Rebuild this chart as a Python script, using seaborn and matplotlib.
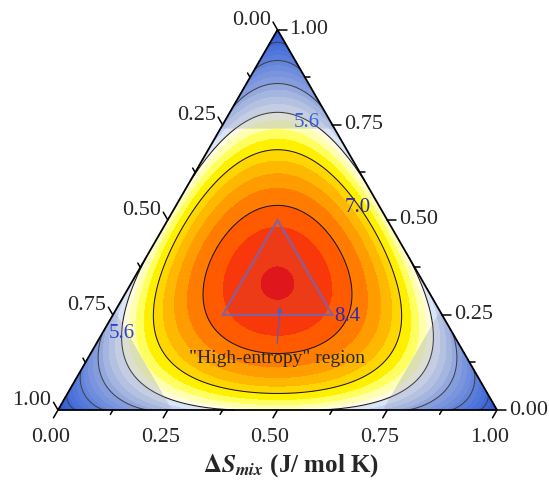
import numpy as np
import matplotlib
matplotlib.use("Agg")
import matplotlib.pyplot as plt
import matplotlib.tri as mtri
from matplotlib.patches import Polygon
import seaborn as sns

# ---- chart values ----
R_GAS = 8.314  # J/(mol K)
TICKS = [0.00, 0.25, 0.50, 0.75, 1.00]
MINOR_TICKS = [0.125, 0.375, 0.625, 0.875]
FILL_LEVELS = [0.0, 0.35, 0.7, 1.05, 1.4, 1.75, 2.1, 2.45, 2.8, 3.15, 3.5, 3.85,
               4.2, 4.55, 4.9, 5.25, 5.6, 5.95, 6.3, 6.65, 7.0, 7.35, 7.7, 8.05,
               8.4, 8.75, 9.1, 9.45]
LINE_LEVELS = [1.4, 2.8, 4.2, 5.6, 7.0, 8.4]
CORNER_CUT = 0.26
# "high-entropy" triangle, compositions (A, B, C)
HE_TRIANGLE = [(0.50, 0.25, 0.25), (0.25, 0.50, 0.25), (0.25, 0.25, 0.50)]
LEVEL_TEXT = ["5.6", "5.6", "7.0", "8.4"]
LEVEL_TEXT_POS = [(0.567, 0.654), (0.146, 0.175), (0.683, 0.462), (0.660, 0.212)]
LEVEL_TEXT_COL = ["#3561d6", "#2c3fcf", "#2a2ab8", "#2a2ab8"]

SQ3 = np.sqrt(3) / 2
# pixel layout of the triangle
X0, Y0, SC = 58, 410, 439
W, H = 549, 494


def to_xy(b, c):
    return b + c / 2, c * SQ3


def xlnx(v):
    safe = np.where(v > 0, v, 1.0)
    return np.where(v > 0, v * np.log(safe), 0.0)


sns.set_theme(style="white")
plt.rcParams["font.family"] = ["Liberation Serif", "DejaVu Serif"]
plt.rcParams["mathtext.fontset"] = "stix"

fig = plt.figure(figsize=(W / 100, H / 100), dpi=100)
ax = fig.add_axes([0, 0, 1, 1])
ax.set_xlim(-X0 / SC, (W - X0) / SC)
ax.set_ylim(-(H - Y0) / SC, Y0 / SC)
ax.axis("off")

# composition grid and ideal mixing entropy
n = 300
bb, cc = np.meshgrid(np.linspace(0, 1, n + 1), np.linspace(0, 1, n + 1))
keep = bb + cc <= 1 + 1e-9
bb, cc = bb[keep], cc[keep]
aa = np.clip(1 - bb - cc, 0, 1)
S = -R_GAS * (xlnx(aa) + xlnx(bb) + xlnx(cc))
px, py = to_xy(bb, cc)
tri = mtri.Triangulation(px, py)

cold = sns.blend_palette(["#0030e8", "#1f52ec", "#4a76ef", "#86a2f2", "#dce4f8"], 16)
warm = ["#fffbe0", "#ffffb0", "#ffff60", "#fff000", "#ffd600", "#ffb800",
        "#ff9c00", "#ff7c00", "#ff5a00", "#f8380a", "#e81010"]
ax.tricontourf(tri, S, levels=FILL_LEVELS, colors=list(cold) + warm)
ax.tricontour(tri, S, levels=LINE_LEVELS, colors="#1a1a1a", linewidths=0.75)

# grey corner regions
for corner in range(3):
    comps = []
    for k in range(3):
        v = [0.0, 0.0, 0.0]
        if k == 0:
            v[corner] = 1.0
        else:
            v[corner] = 1 - CORNER_CUT
            v[(corner + k) % 3] = CORNER_CUT
        comps.append(to_xy(v[1], v[2]))
    ax.add_patch(Polygon(comps, closed=True, facecolor="#8e9bb0", alpha=0.3,
                         edgecolor="none", zorder=3))

# high-entropy triangle
he = [to_xy(b, c) for a, b, c in HE_TRIANGLE]
ax.add_patch(Polygon(he, closed=True, facecolor="#7a5fb0", alpha=0.08,
                     edgecolor="none", zorder=4))
ax.add_patch(Polygon(he, closed=True, facecolor="none", edgecolor="#7d62a8",
                     lw=1.6, alpha=0.9, zorder=4))

# outer frame
frame = [to_xy(0, 0), to_xy(1, 0), to_xy(0, 1)]
ax.add_patch(Polygon(frame, closed=True, facecolor="none", edgecolor="black",
                     lw=1.3, zorder=5))

# ticks and tick labels
tl_major, tl_minor = 9 / SC, 5 / SC
fs = 16
for t in TICKS + MINOR_TICKS:
    L = tl_major if t in TICKS else tl_minor
    # bottom axis (B): ticks down-left
    x, y = to_xy(t, 0)
    ax.plot([x, x - 0.5 * L], [y, y - SQ3 * L], color="black", lw=1.1,
            zorder=5, clip_on=False)
    # left axis (A): ticks up-left
    x, y = to_xy(0, 1 - t)
    ax.plot([x, x - 0.5 * L], [y, y + SQ3 * L], color="black", lw=1.1,
            zorder=5, clip_on=False)
    # right axis (C): ticks to the right
    x, y = to_xy(1 - t, t)
    ax.plot([x, x + L], [y, y], color="black", lw=1.1, zorder=5, clip_on=False)

for t in TICKS:
    x, y = to_xy(t, 0)
    ax.text(x - 0.5 * tl_major - 3 / SC, y - SQ3 * tl_major - 10 / SC, f"{t:.2f}",
            ha="center", va="top", fontsize=fs)
    x, y = to_xy(0, 1 - t)
    ax.text(x - 0.5 * tl_major - 2 / SC, y + SQ3 * tl_major + 2 / SC, f"{t:.2f}",
            ha="right", va="center", fontsize=fs)
    x, y = to_xy(1 - t, t)
    ax.text(x + tl_major + 3 / SC, y, f"{t:.2f}",
            ha="left", va="center", fontsize=fs)

# contour value labels
for txt, (x, y), col in zip(LEVEL_TEXT, LEVEL_TEXT_POS, LEVEL_TEXT_COL):
    ax.text(x, y, txt, ha="center", va="center", fontsize=15, color=col, zorder=6)

# high-entropy annotation
ax.annotate("", xy=(0.506, 0.242), xytext=(0.499, 0.146),
            arrowprops=dict(arrowstyle="-|>", color="#5a5ab8", lw=0.9,
                            mutation_scale=8), zorder=6)
ax.text(0.499, 0.118, '"High-entropy" region', ha="center", va="center",
        fontsize=14, zorder=6)

fig.text(291 / W, 1 - 466 / H, r"$\mathbf{\Delta}\mathbfit{S}_{\mathbfit{mix}}$ (J/ mol K)",
         ha="center", va="center", fontsize=18, fontweight="bold")

fig.savefig("out.png", dpi=100)
